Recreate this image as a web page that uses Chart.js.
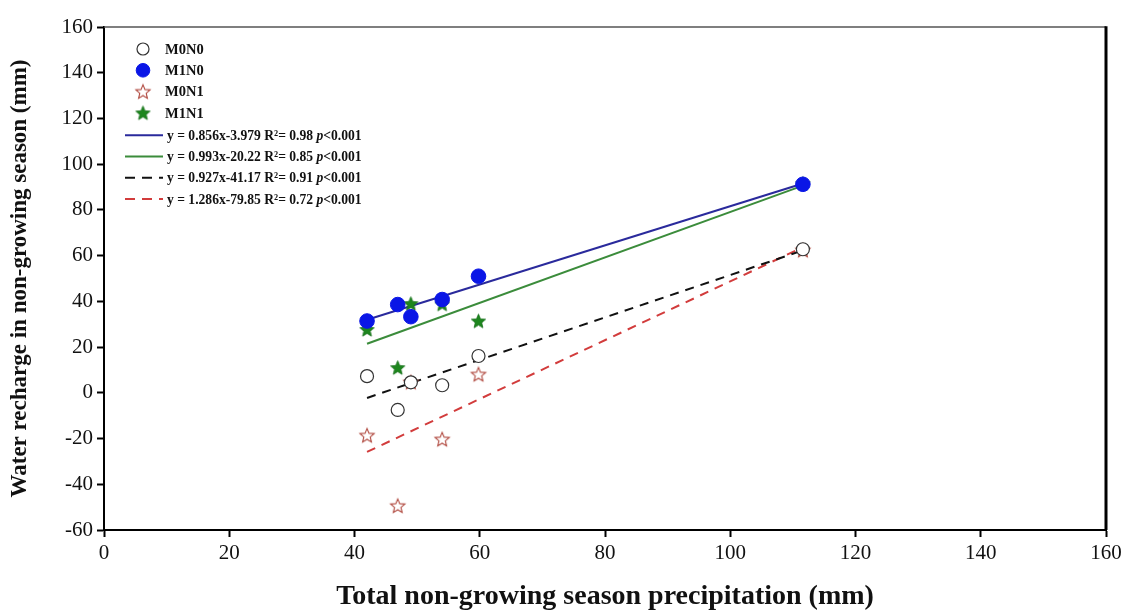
<!DOCTYPE html>
<html>
<head>
<meta charset="utf-8">
<script src="https://cdn.jsdelivr.net/npm/chart.js@4.4.1/dist/chart.umd.min.js"></script>
<style>
  html, body { margin: 0; padding: 0; background: #fff; }
  #wrap { width: 1128px; height: 611px; }
</style>
</head>
<body>
<div id="wrap"><canvas id="c" width="1128" height="611"></canvas></div>
<script>
// ---- data ----
const precipitation = [42.0, 46.9, 49.0, 54.0, 59.8, 111.6];
const m0n0 = [7.3, -7.5, 4.6, 3.3, 16.1, 62.8];
const m1n0 = [31.4, 38.6, 33.3, 40.8, 51.0, 91.2];
const m0n1 = [-18.6, -49.4, 4.7, -20.3, 8.1, 62.4];
const m1n1 = [27.7, 11.0, 39.0, 38.8, 31.4, 91.6];
const seriesNames = ['M0N0', 'M1N0', 'M0N1', 'M1N1'];

const fitSlopes = [0.856, 0.993, 0.927, 1.286];
const fitIntercepts = [-3.979, -20.22, -41.17, -79.85];
const fitSlopeText = ['0.856', '0.993', '0.927', '1.286'];
const fitInterceptText = ['-3.979', '-20.22', '-41.17', '-79.85'];
const fitR2Text = ['0.98', '0.85', '0.91', '0.72'];

const xTitle = 'Total non-growing season precipitation (mm)';
const yTitle = 'Water recharge in non-growing season (mm)';

// ---- styles ----
const SERIF = '"Liberation Serif", "DejaVu Serif", serif';
const fitColors = ['#2a2a9c', '#3b8c3b', '#111111', '#d23c3c'];
const fitDash = [[], [], [9, 7], [9, 7]];

function starCanvas(r, fill, stroke, lw) {
  const s = Math.ceil(r * 2 + lw * 2 + 2);
  const c = document.createElement('canvas');
  c.width = s; c.height = s;
  const g = c.getContext('2d');
  const cx = s / 2, cy = s / 2 + r * 0.08;
  g.beginPath();
  for (let i = 0; i < 10; i++) {
    const rad = i % 2 === 0 ? r : r * 0.45;
    const a = -Math.PI / 2 + i * Math.PI / 5;
    const px = cx + rad * Math.cos(a), py = cy + rad * Math.sin(a);
    if (i === 0) g.moveTo(px, py); else g.lineTo(px, py);
  }
  g.closePath();
  if (fill) { g.fillStyle = fill; g.fill(); }
  if (stroke) { g.strokeStyle = stroke; g.lineWidth = lw; g.stroke(); }
  return c;
}
const openStar = starCanvas(7.5, '#ffffff', '#b0483e', 1.1);
const greenStar = starCanvas(7.5, '#1d861d', '#17701a', 0.8);

function pts(ys) { return precipitation.map((x, i) => ({ x: x, y: ys[i] })); }
const xmin = Math.min(...precipitation), xmax = Math.max(...precipitation);
function fitLine(k) {
  return [xmin, xmax].map(x => ({ x: x, y: fitSlopes[k] * x + fitIntercepts[k] }));
}

const pointDatasets = [
  { label: seriesNames[0], data: pts(m0n0), pointStyle: 'circle', pointRadius: 6.5,
    backgroundColor: '#ffffff', borderColor: '#333333', borderWidth: 1.2, order: 1 },
  { label: seriesNames[1], data: pts(m1n0), pointStyle: 'circle', pointRadius: 7.3,
    backgroundColor: '#0a16e6', borderColor: '#0a16e6', borderWidth: 1, order: 0 },
  { label: seriesNames[2], data: pts(m0n1), pointStyle: openStar, pointRadius: 8,
    backgroundColor: '#fff', borderColor: '#b0483e', order: 2 },
  { label: seriesNames[3], data: pts(m1n1), pointStyle: greenStar, pointRadius: 8,
    backgroundColor: '#1d861d', borderColor: '#1d861d', order: 1 }
];
const lineDatasets = fitSlopes.map((s, k) => ({
  type: 'line',
  label: 'y = ' + fitSlopeText[k] + 'x' + fitInterceptText[k],
  data: fitLine(k),
  showLine: true,
  borderColor: fitColors[k],
  borderWidth: 2,
  borderDash: fitDash[k],
  pointRadius: 0,
  fill: false,
  order: 5
}));

// ---- custom plugins ----
const framePlugin = {
  id: 'frame',
  afterDraw(chart) {
    const a = chart.chartArea, g = chart.ctx;
    g.save();
    g.strokeStyle = '#555'; g.lineWidth = 1.5;
    g.beginPath(); g.moveTo(a.left, a.top); g.lineTo(a.right, a.top); g.stroke();
    g.strokeStyle = '#000'; g.lineWidth = 3;
    g.beginPath(); g.moveTo(a.right, a.top - 0.8); g.lineTo(a.right, a.bottom); g.stroke();
    g.restore();
  }
};

const legendPlugin = {
  id: 'customLegend',
  afterDraw(chart) {
    const g = chart.ctx;
    const a = chart.chartArea;
    const symX = a.left + 39, textX = a.left + 61;
    const y0 = a.top + 22, step = 21.3;
    g.save();
    g.textBaseline = 'middle';
    g.fillStyle = '#111';
    // marker items
    for (let i = 0; i < 4; i++) {
      const ds = pointDatasets[i];
      const y = y0 + i * step;
      if (ds.pointStyle === 'circle') {
        g.beginPath(); g.arc(symX, y, ds.pointRadius - 0.5, 0, Math.PI * 2);
        g.fillStyle = ds.backgroundColor; g.fill();
        g.strokeStyle = ds.borderColor; g.lineWidth = ds.borderWidth; g.stroke();
      } else {
        const im = ds.pointStyle;
        g.drawImage(im, symX - im.width / 2, y - im.height / 2);
      }
      g.fillStyle = '#111';
      g.font = 'bold 14.5px ' + SERIF;
      g.fillText(ds.label, textX, y + 1);
    }
    // fit line items
    for (let k = 0; k < 4; k++) {
      const y = y0 + (4 + k) * step + 1;
      g.save();
      g.strokeStyle = fitColors[k]; g.lineWidth = 2;
      g.setLineDash(fitDash[k].length ? [10, 7] : []);
      g.beginPath(); g.moveTo(a.left + 21, y); g.lineTo(a.left + 59, y); g.stroke();
      g.restore();
      let x = a.left + 63;
      const parts = [
        ['bold', 'y = ' + fitSlopeText[k] + 'x' + fitInterceptText[k] + ' R\u00b2= ' + fitR2Text[k] + ' '],
        ['italic bold', 'p'],
        ['bold', '<0.001']
      ];
      g.fillStyle = '#111';
      for (const [w, t] of parts) {
        g.font = w + ' 13.6px ' + SERIF;
        g.fillText(t, x, y + 1);
        x += g.measureText(t).width;
      }
    }
    g.restore();
  }
};

Chart.defaults.font.family = SERIF;
Chart.defaults.color = '#111';

new Chart(document.getElementById('c'), {
  type: 'scatter',
  data: { datasets: [...pointDatasets, ...lineDatasets] },
  options: {
    responsive: false,
    animation: false,
    events: [],
    layout: { padding: { left: 0, top: 27, right: 22, bottom: 0 } },
    plugins: { legend: { display: false }, tooltip: { enabled: false } },
    scales: {
      x: {
        type: 'linear', min: 0, max: 160,
        ticks: { stepSize: 20, font: { size: 21 }, color: '#111', padding: 4, maxRotation: 0 },
        grid: { drawOnChartArea: false, drawTicks: true, tickLength: 7, tickWidth: 2, tickColor: '#000' },
        border: { color: '#000', width: 2 },
        title: { display: true, text: xTitle, font: { size: 28, weight: 'bold', lineHeight: 1.05 }, color: '#111',
                 padding: { top: 0, bottom: 0 } },
        afterFit(s) { s.height = 81; }
      },
      y: {
        type: 'linear', min: -60, max: 160,
        ticks: { stepSize: 20, font: { size: 21 }, color: '#111', padding: 4 },
        grid: { drawOnChartArea: false, drawTicks: true, tickLength: 7, tickWidth: 2, tickColor: '#000' },
        border: { color: '#000', width: 2 },
        title: { display: true, text: yTitle, font: { size: 23, weight: 'bold', lineHeight: 1.2 }, color: '#111',
                 padding: { top: 6, bottom: 0 } },
        afterFit(s) { s.width = 104; }
      }
    }
  },
  plugins: [framePlugin, legendPlugin]
});
</script>
</body>
</html>
